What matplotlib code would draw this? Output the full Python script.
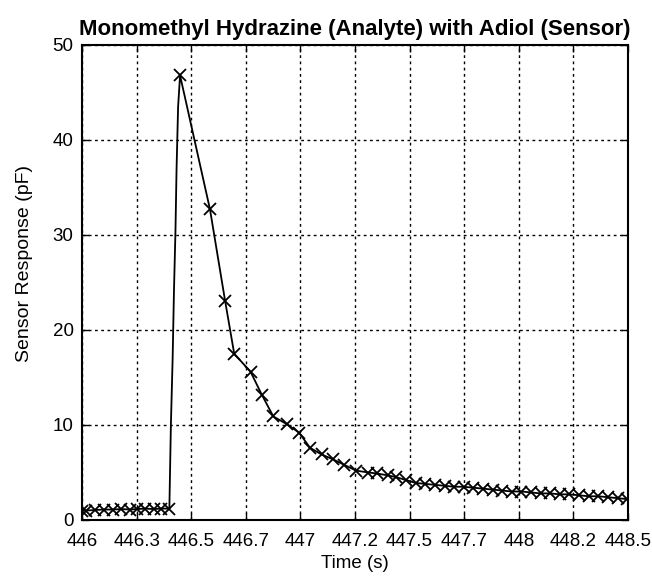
import matplotlib
matplotlib.use("Agg")
import matplotlib.pyplot as plt
import numpy as np

plt.rcParams['font.family'] = ['Liberation Sans', 'DejaVu Sans']

# baseline (markers)
base_time = [446.0, 446.02, 446.06, 446.10, 446.14, 446.18, 446.22, 446.25, 446.29, 446.33, 446.36, 446.40]
base_resp = [1.0, 1.0, 1.05, 1.1, 1.1, 1.15, 1.1, 1.15, 1.2, 1.15, 1.2, 1.2]

# steep rise (line only)
rise_time = [446.407, 446.415, 446.421, 446.428, 446.433, 446.440]
rise_resp = [10.0, 17.0, 24.0, 30.5, 37.0, 43.5]

# peak and decay (markers)
decay_time = [446.449, 446.586, 446.655, 446.697, 446.772, 446.823, 446.876, 446.937,
              446.994, 447.044, 447.097, 447.148, 447.201, 447.255, 447.311, 447.349,
              447.40, 447.44, 447.484, 447.528, 447.572, 447.616, 447.66, 447.704,
              447.748, 447.792, 447.836, 447.88, 447.924, 447.968, 448.012, 448.056,
              448.10, 448.144, 448.188, 448.232, 448.276, 448.32, 448.364, 448.408,
              448.452, 448.496]
decay_resp = [46.8, 32.7, 23.1, 17.5, 15.6, 13.2, 10.9, 10.1,
              9.2, 7.6, 6.9, 6.4, 5.8, 5.2, 5.0, 4.9,
              4.7, 4.5, 4.2, 3.9, 3.8, 3.7, 3.6, 3.5,
              3.5, 3.4, 3.3, 3.2, 3.1, 3.0, 3.0, 2.9,
              2.8, 2.8, 2.7, 2.7, 2.6, 2.5, 2.5, 2.4,
              2.3, 2.2]

xticks = [446.0, 446.25, 446.5, 446.75, 447.0, 447.25, 447.5, 447.75, 448.0, 448.25, 448.5]
xticklabels = ['446', '446.3', '446.5', '446.7', '447', '447.2', '447.5', '447.7', '448', '448.2', '448.5']
yticks = [0, 10, 20, 30, 40, 50]

fig = plt.figure(figsize=(6.52, 5.77), dpi=100)
ax = fig.add_axes([82/652, 1-520/577, (628-82)/652, (520-45)/577])

line_t = base_time + rise_time + decay_time
line_r = base_resp + rise_resp + decay_resp
ax.plot(line_t, line_r, color='black', linewidth=1.3)
ax.plot(base_time + decay_time, base_resp + decay_resp, linestyle='none',
        marker='x', markersize=8, markeredgewidth=1.3, color='black')

ax.set_xlim(446, 448.5)
ax.set_ylim(0, 50)
ax.set_xticks(xticks)
ax.set_xticklabels(xticklabels)
ax.set_yticks(yticks)
ax.grid(True, color='black', linestyle=(0, (2, 2.5)), linewidth=1.0)
ax.tick_params(direction='in', top=True, right=True, labelsize=13.5, length=5, width=1)
ax.tick_params(axis='x', pad=9)
ax.tick_params(axis='y', pad=6)
for s in ax.spines.values():
    s.set_linewidth(1.5)

ax.set_title('Monomethyl Hydrazine (Analyte) with Adiol (Sensor)', fontsize=16,
             fontweight='bold', pad=7)
ax.set_xlabel('Time (s)', fontsize=13.5, labelpad=4)
ax.set_ylabel('Sensor Response (pF)', fontsize=14)
ax.yaxis.set_label_coords(-0.09, 0.54)

fig.savefig('out.png', dpi=100)
